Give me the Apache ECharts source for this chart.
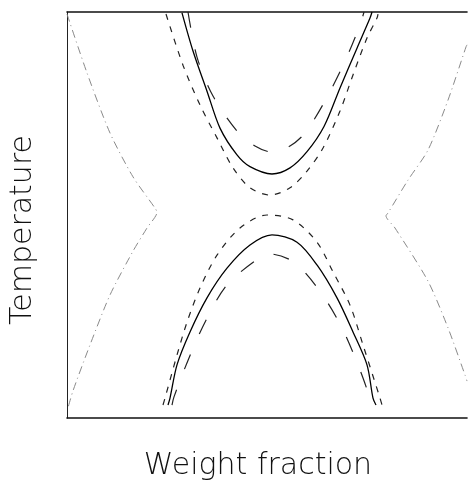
<!DOCTYPE html>
<html>
<head>
<meta charset="utf-8">
<script src="https://cdn.jsdelivr.net/npm/echarts@6/dist/echarts.min.js"></script>
<style>
  html, body { margin: 0; padding: 0; background: #fff; }
  #chart { width: 468px; height: 480px; }
</style>
</head>
<body>
<div id="chart"></div>
<script>
// Phase diagram: weight fraction (x) vs. temperature (y), both normalised to 0..1.

// Upper (UCST-like) branches
const upperSolid = [[0.2875,0.998],[0.315,0.904],[0.35,0.805],[0.3825,0.714],[0.425,0.648],[0.4575,0.619],[0.5125,0.601],[0.5575,0.616],[0.60,0.656],[0.6425,0.718],[0.6825,0.813],[0.725,0.911],[0.7575,0.985],[0.7625,1.0]];
const upperShortDash = [[0.2475,0.995],[0.29,0.869],[0.3325,0.771],[0.375,0.690],[0.415,0.616],[0.4575,0.567],[0.5075,0.549],[0.5575,0.567],[0.60,0.608],[0.64,0.665],[0.6825,0.756],[0.715,0.845],[0.75,0.936],[0.775,0.985],[0.7775,0.995]];
const upperLongDash = [[0.3025,1.0],[0.325,0.889],[0.365,0.793],[0.425,0.707],[0.47,0.670],[0.5125,0.655],[0.5575,0.670],[0.595,0.702],[0.645,0.781],[0.695,0.879],[0.7325,0.968],[0.7425,1.0]];

// Lower branches
const lowerSolid = [[0.2525,0.032],[0.2575,0.049],[0.275,0.131],[0.3075,0.212],[0.35,0.296],[0.40,0.369],[0.4575,0.426],[0.5125,0.451],[0.575,0.433],[0.625,0.377],[0.675,0.296],[0.715,0.212],[0.75,0.131],[0.765,0.049],[0.7725,0.032]];
const lowerShortDash = [[0.24,0.032],[0.245,0.049],[0.275,0.155],[0.30,0.236],[0.3325,0.320],[0.375,0.401],[0.4325,0.468],[0.50,0.500],[0.565,0.488],[0.625,0.433],[0.665,0.360],[0.7075,0.278],[0.74,0.180],[0.7825,0.049],[0.7875,0.032]];
const lowerLongDash = [[0.2625,0.032],[0.2675,0.052],[0.305,0.148],[0.3475,0.241],[0.40,0.328],[0.4775,0.392],[0.5075,0.404],[0.57,0.382],[0.6375,0.305],[0.69,0.217],[0.7325,0.118],[0.7575,0.049],[0.7625,0.032]];

// Outer boundaries
const leftBoundary = [[0.0,0.995],[0.05,0.850],[0.1075,0.702],[0.165,0.594],[0.22,0.517],[0.225,0.507],[0.2,0.468],[0.165,0.411],[0.1075,0.303],[0.0575,0.180],[0.015,0.067],[0.0025,0.025]];
const rightBoundary = [[1.0,0.919],[0.9975,0.914],[0.9525,0.783],[0.9025,0.660],[0.8525,0.586],[0.8025,0.505],[0.7975,0.498],[0.82,0.468],[0.9025,0.337],[0.9525,0.222],[0.995,0.106],[1.0,0.091]];

const xTitle = 'Weight fraction';
const yTitle = 'Temperature';

const chart = echarts.init(document.getElementById('chart'), null, { renderer: 'canvas' });

const plain = { show: false };
function curve(data, color, width, type, smooth) {
  return {
    type: 'line',
    data: data,
    showSymbol: false,
    symbol: 'none',
    smooth: smooth,
    clip: true,
    lineStyle: { color: color, width: width, type: type },
    silent: true,
    animation: false
  };
}

const titleFont = '300 30px "DejaVu Sans", sans-serif';

chart.setOption({
  animation: false,
  backgroundColor: '#fff',
  grid: { left: 67, right: 1, top: 12, bottom: 62 },
  xAxis: [
    { type: 'value', min: 0, max: 1, position: 'bottom',
      axisLine: { show: true, lineStyle: { color: '#111', width: 1.6 } },
      axisTick: plain, axisLabel: plain, splitLine: plain },
    { type: 'value', min: 0, max: 1, position: 'top',
      axisLine: { show: true, lineStyle: { color: '#111', width: 1.6 } },
      axisTick: plain, axisLabel: plain, splitLine: plain }
  ],
  yAxis: [
    { type: 'value', min: 0, max: 1, position: 'left',
      axisLine: { show: true, onZero: false, lineStyle: { color: '#222', width: 1 } },
      axisTick: plain, axisLabel: plain, splitLine: plain }
  ],
  series: [
    curve(leftBoundary, '#8a8a8a', 1, [8, 4, 1, 4], 0.25),
    curve(rightBoundary, '#8a8a8a', 1, [8, 4, 1, 4], 0.25),
    curve(upperLongDash, '#222', 1.2, [16, 22], 0.3),
    curve(upperSolid, '#000', 1.3, 'solid', 0.3),
    curve(upperShortDash, '#222', 1.2, [6, 7], 0.3),
    curve(lowerShortDash, '#222', 1.2, [6, 7], 0.3),
    curve(lowerSolid, '#000', 1.3, 'solid', 0.3),
    curve(lowerLongDash, '#222', 1.2, [16, 22], 0.3)
  ],
  graphic: [
    { type: 'text', x: 258, y: 466, silent: true,
      style: { text: xTitle, fill: '#111', font: titleFont, align: 'center', verticalAlign: 'middle' } },
    { type: 'text', x: 23, y: 230, rotation: Math.PI / 2, silent: true,
      style: { text: yTitle, fill: '#111', font: titleFont, align: 'center', verticalAlign: 'middle' } }
  ]
});
</script>
</body>
</html>
